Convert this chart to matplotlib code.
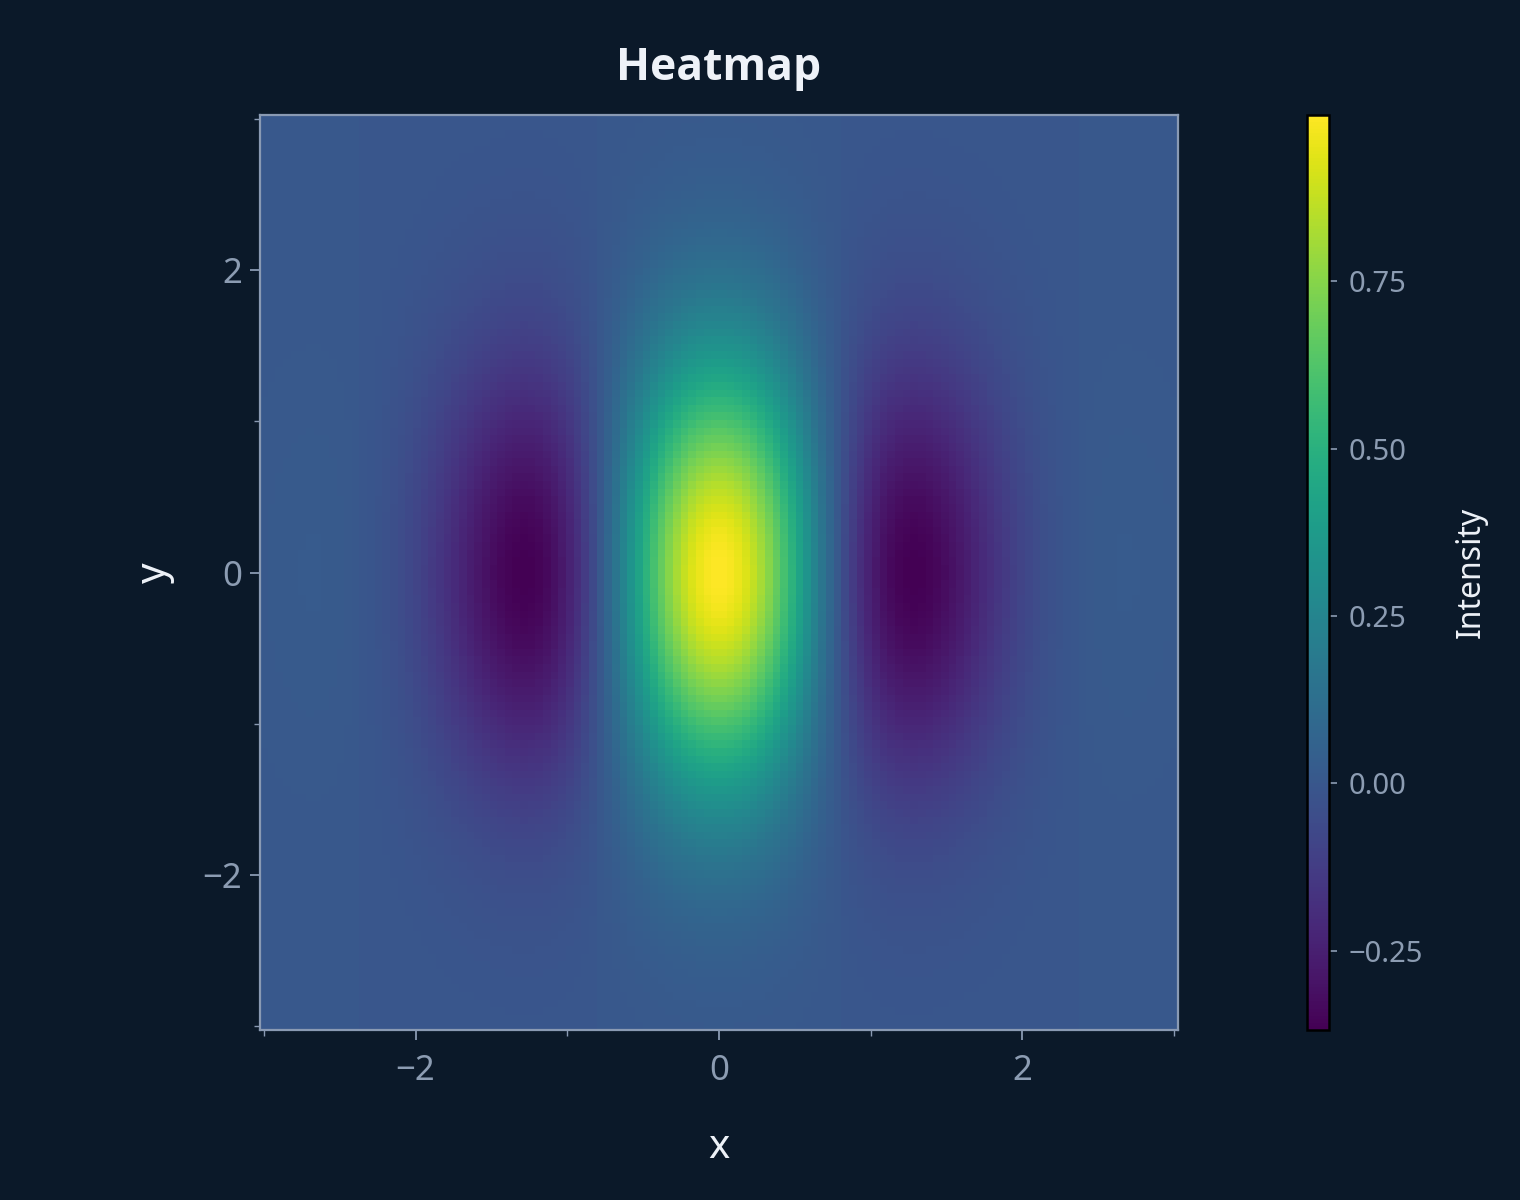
import numpy as np
import matplotlib.pyplot as plt

# grid of the heatmap (cell centres)
x = np.linspace(-3, 3, 120)
y = np.linspace(-3, 3, 120)
X, Y = np.meshgrid(x, y)
# intensity field shown in the chart
Z = np.cos(2 * X) * np.exp(-(X ** 2 + Y ** 2) / 2)

x_ticks = [-2, 0, 2]
y_ticks = [-2, 0, 2]
minor_ticks = [-3, -1, 1, 3]
cbar_ticks = [-0.25, 0.0, 0.25, 0.5, 0.75]

bg = '#0b1929'
spine = '#8a9ab3'
tickc = '#8c9cb2'
textc = '#eef2f8'

plt.rcParams['font.family'] = ['Noto Sans', 'DejaVu Sans']

fig = plt.figure(figsize=(15.2, 12), dpi=100, facecolor=bg)
ax = fig.add_axes([260 / 1520, 1 - 1030 / 1200, 918 / 1520, 915 / 1200])
cax = fig.add_axes([1307 / 1520, 1 - 1030 / 1200, 22 / 1520, 915 / 1200])

mesh = ax.pcolormesh(x, y, Z, cmap='viridis', shading='nearest')
step = x[1] - x[0]
ax.set_xlim(x[0] - step / 2, x[-1] + step / 2)
ax.set_ylim(y[0] - step / 2, y[-1] + step / 2)

ax.set_xticks(x_ticks)
ax.set_yticks(y_ticks)
ax.set_xticks(minor_ticks, minor=True)
ax.set_yticks(minor_ticks, minor=True)
ax.set_xticklabels(['\u22122', '0', '2'])
ax.set_yticklabels(['\u22122', '0', '2'])
ax.tick_params(which='major', length=7, width=1.3, color=spine, labelcolor=tickc,
               labelsize=25, pad=10)
ax.tick_params(axis='y', which='major', pad=6)
ax.tick_params(which='minor', length=4, width=1.0, color=spine)
for s in ax.spines.values():
    s.set_color(spine)
    s.set_linewidth(1.6)

ax.set_xlabel('x', fontsize=29, color=textc, labelpad=29)
ax.set_ylabel('y', fontsize=29, color=textc, labelpad=20)
ax.set_title('Heatmap', fontsize=32, fontweight='bold', color=textc, pad=25,
             family=['Open Sans', 'DejaVu Sans'])

cb = fig.colorbar(mesh, cax=cax)
cb.set_ticks(cbar_ticks)
cb.set_ticklabels(['\u22120.25', '0.00', '0.25', '0.50', '0.75'])
cb.outline.set_edgecolor('black')
cb.outline.set_linewidth(1.8)
cax.tick_params(length=6, width=1.2, color=tickc, labelcolor=tickc, labelsize=21, pad=8)
cb.set_label('Intensity', fontsize=23, color=textc, labelpad=23)

fig.savefig('out.png', dpi=100, facecolor=bg)
